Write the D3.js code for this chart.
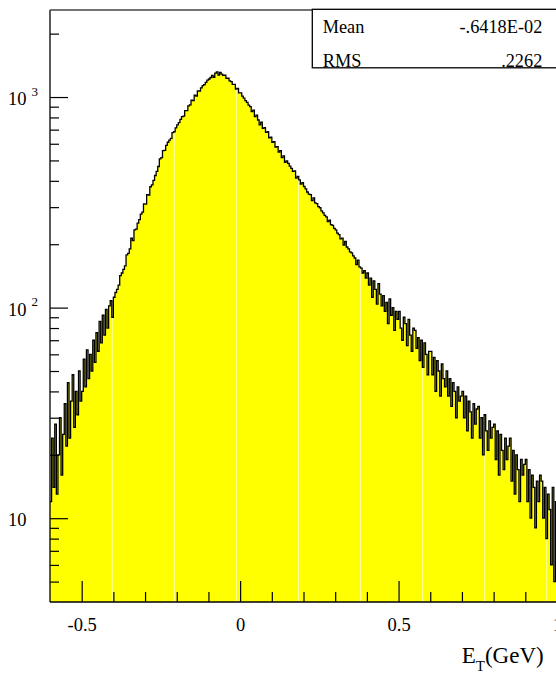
<!DOCTYPE html>
<html>
<head>
<meta charset="utf-8">
<script src="https://cdn.jsdelivr.net/npm/d3@7"></script>
<style>
  body { margin: 0; background: #fff; }
  svg { display: block; }
</style>
</head>
<body>
<svg id="chart" width="556" height="673"></svg>
<script>
// Histogram of transverse energy, 0.005 GeV bins starting at -0.6 GeV
const binLow = -0.6;
const binWidth = 0.005;
const counts = [
  12, 24, 14, 28, 13, 20, 30, 16, 25, 35,
  22, 44, 24, 36, 48, 27, 40, 31, 50, 36,
  40, 57, 42, 63, 46, 60, 50, 70, 55, 76,
  62, 86, 68, 92, 74, 98, 80, 102, 108, 90,
  112, 118, 122, 128, 142, 146, 152, 158, 178, 181,
  190, 214, 208, 234, 236, 252, 262, 278, 284, 311,
  310, 344, 342, 375, 383, 402, 424, 444, 468, 508,
  516, 556, 558, 590, 610, 624, 636, 678, 684, 714,
  738, 756, 784, 808, 812, 862, 862, 908, 918, 966,
  962, 1020, 1010, 1068, 1068, 1106, 1132, 1146, 1174, 1202,
  1218, 1238, 1268, 1240, 1300, 1316, 1270, 1308, 1284, 1268,
  1272, 1228, 1228, 1192, 1184, 1148, 1148, 1090, 1098, 1046,
  1046, 1010, 988, 962, 944, 915, 900, 852, 866, 808,
  820, 778, 738, 760, 710, 716, 680, 684, 640, 645,
  610, 614, 578, 582, 548, 556, 516, 526, 490, 498,
  484, 470, 458, 444, 446, 412, 420, 404, 386, 392,
  376, 366, 354, 346, 344, 322, 332, 314, 312, 302,
  298, 288, 282, 274, 270, 256, 260, 248, 246, 238,
  234, 226, 222, 212, 214, 198, 206, 194, 190, 184,
  182, 176, 172, 160, 168, 156, 154, 146, 150, 138,
  146, 128, 138, 112, 134, 122, 104, 130, 116, 102,
  114, 96, 106, 84, 110, 92, 100, 78, 96, 88,
  96, 80, 70, 90, 84, 66, 88, 74, 62, 80,
  78, 64, 72, 56, 70, 52, 68, 60, 48, 62,
  62, 48, 58, 40, 56, 50, 38, 54, 46, 42,
  50, 38, 46, 34, 44, 40, 30, 42, 36, 38,
  40, 30, 38, 26, 36, 32, 24, 35, 28, 33,
  34, 24, 30, 20, 31, 26, 21, 29, 24, 27,
  28, 19, 26, 16, 25, 21, 17, 24, 19, 22,
  24, 15, 21, 13, 20, 17, 12, 19, 16, 18,
  19, 12, 17, 10, 16, 14, 9, 15, 12, 16,
  15, 10, 14, 8, 13, 11, 6, 14, 5, 12
];

const xMajorTicks = [-0.5, 0, 0.5, 1];
const xMajorLabels = ["-0.5", "0", "0.5", "1"];
const xMinorTicks = [-0.4, -0.3, -0.2, -0.1, 0.1, 0.2, 0.3, 0.4, 0.6, 0.7, 0.8, 0.9];
const yMajorTicks = [10, 100, 1000];
const yMajorExponents = ["", "2", "3"];
const yMinorTicks = [5, 6, 7, 8, 9, 20, 30, 40, 50, 60, 70, 80, 90,
                     200, 300, 400, 500, 600, 700, 800, 900, 2000];
const statNames = ["Mean", "RMS"];
const statValues = ["-.6418E-02", ".2262"];

const serif = "'Liberation Serif', Tinos, 'Times New Roman', Times, 'Nimbus Roman', 'DejaVu Serif', serif";
const plotLeft = 50, plotTop = 10, plotBottom = 602, plotRight = 557;

const svg = d3.select("#chart");
const x = d3.scaleLinear().domain([-0.6, 1.0]).range([plotLeft, plotRight]);
const y = d3.scaleLog().domain([4, 2590]).range([plotBottom, plotTop]);

const pts = counts.map((c, i) => ({ x: binLow + i * binWidth, c }));
pts.push({ x: binLow + counts.length * binWidth, c: counts[counts.length - 1] });

const area = d3.area()
  .curve(d3.curveStepAfter)
  .x(d => x(d.x))
  .y0(plotBottom)
  .y1(d => y(Math.max(d.c, 4)));

const line = d3.line()
  .curve(d3.curveStepAfter)
  .x(d => x(d.x))
  .y(d => y(Math.max(d.c, 4)));

svg.append("clipPath").attr("id", "histClip")
  .append("path").attr("d", area(pts));

svg.append("path")
  .attr("d", area(pts))
  .attr("fill", "#ffff00");

// faint light seams that run through the filled area
const seamStart = 112.3, seamStep = 62.06;
const seams = d3.range(seamStart, plotRight, seamStep);
svg.append("g").attr("clip-path", "url(#histClip)")
  .selectAll("line").data(seams).join("line")
  .attr("x1", d => d).attr("x2", d => d)
  .attr("y1", plotTop).attr("y2", plotBottom)
  .attr("stroke", "#ffffa8").attr("stroke-width", 1);

svg.append("path")
  .attr("d", line(pts))
  .attr("fill", "none")
  .attr("stroke", "#000")
  .attr("stroke-width", 1.3)
  .attr("stroke-linejoin", "miter");

// X axis: ticks point into the frame
const xMinor = svg.append("g").attr("transform", `translate(0,${plotBottom})`)
  .call(d3.axisBottom(x).tickValues(xMinorTicks).tickSize(-10).tickSizeOuter(0).tickFormat(""));
xMinor.select(".domain").remove();

const xAxis = svg.append("g").attr("transform", `translate(0,${plotBottom})`)
  .call(d3.axisBottom(x).tickValues(xMajorTicks).tickSize(-21).tickSizeOuter(0)
    .tickPadding(16).tickFormat((d, i) => xMajorLabels[i]));
xAxis.select(".domain").remove();
xAxis.attr("font-family", null);
xAxis.selectAll("text")
  .style("font-family", serif)
  .style("font-size", "18.5px")
  .attr("fill", "#000");

// Y axis (log)
const yMinor = svg.append("g").attr("transform", `translate(${plotLeft},0)`)
  .call(d3.axisLeft(y).tickValues(yMinorTicks).tickSize(-9).tickSizeOuter(0).tickFormat(""));
yMinor.select(".domain").remove();

const yAxis = svg.append("g").attr("transform", `translate(${plotLeft},0)`)
  .call(d3.axisLeft(y).tickValues(yMajorTicks).tickSize(-18).tickSizeOuter(0).tickFormat(""));
yAxis.select(".domain").remove();
yAxis.attr("font-family", null);
yAxis.selectAll(".tick").each(function(d, i) {
  const t = d3.select(this).select("text")
    .attr("text-anchor", "start")
    .attr("x", 8 - plotLeft)
    .attr("dy", null)
    .attr("y", 7.5)
    .attr("fill", "#000")
    .style("font-family", serif)
    .style("font-size", "18.5px");
  t.text("10");
  if (yMajorExponents[i]) {
    t.append("tspan")
      .attr("dx", 5)
      .attr("dy", -9.5)
      .style("font-size", "13px")
      .text(yMajorExponents[i]);
  }
});
svg.selectAll(".tick line").attr("stroke", "#000").attr("stroke-width", 1.2);

// Frame lines
svg.append("line").attr("x1", plotLeft).attr("x2", plotRight + 2).attr("y1", plotBottom).attr("y2", plotBottom)
  .attr("stroke", "#000").attr("stroke-width", 1.3);
svg.append("line").attr("x1", plotLeft).attr("x2", plotLeft).attr("y1", plotTop).attr("y2", plotBottom)
  .attr("stroke", "#000").attr("stroke-width", 1.3);
svg.append("line").attr("x1", plotLeft).attr("x2", plotRight + 2).attr("y1", plotTop).attr("y2", plotTop)
  .attr("stroke", "#444").attr("stroke-width", 1.6);

// Statistics box
const box = svg.append("g");
box.append("rect")
  .attr("x", 312.3).attr("y", 9.3).attr("width", 260).attr("height", 58.5)
  .attr("fill", "#fff").attr("stroke", "#000").attr("stroke-width", 1.3);
box.selectAll("text.name").data(statNames).join("text")
  .attr("class", "name")
  .attr("x", 322.7).attr("y", (d, i) => 33.3 + i * 33.3)
  .style("font-family", serif).style("font-size", "18.3px")
  .text(d => d);
box.selectAll("text.val").data(statValues).join("text")
  .attr("class", "val")
  .attr("x", 542.3).attr("y", (d, i) => 33.3 + i * 33.3)
  .attr("text-anchor", "end")
  .style("font-family", serif).style("font-size", "18.3px")
  .text(d => d);

// Axis title
const title = svg.append("text")
  .attr("x", 461.7).attr("y", 662.7)
  .style("font-family", serif).style("font-size", "23px");
title.append("tspan").text("E");
title.append("tspan").attr("dy", 8.3).style("font-size", "15px").text("T");
title.append("tspan").attr("dy", -8.3).text("(GeV)");
</script>
</body>
</html>
